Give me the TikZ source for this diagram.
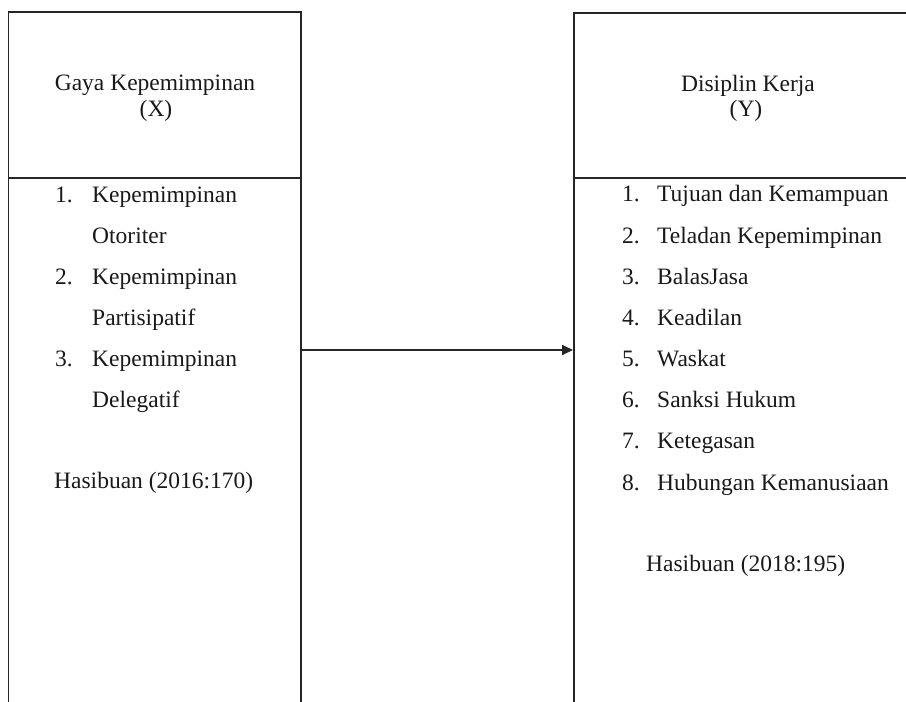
\documentclass[tikz,border=0pt]{standalone}
\usepackage{fontspec}
\setmainfont{Liberation Serif}
\usetikzlibrary{arrows.meta}
\begin{document}
\begin{tikzpicture}[x=1pt,y=-1pt,
  frame/.style={draw=black!85, line width=1.7pt, rectangle, inner sep=0pt, anchor=north west},
  txt/.style={inner sep=0pt, anchor=base west, font=\fontsize{23.5}{28}\selectfont, text=black!90},
  head/.style={inner sep=0pt, anchor=base, font=\fontsize{23.5}{28}\selectfont, text=black!90},
  rule/.style={draw=black!85, line width=1.7pt},
  link/.style={draw=black!85, line width=1.7pt, -{Triangle[length=11pt,width=10pt]}}]
\useasboundingbox (0,0) rectangle (906,702);
\clip (0,0) rectangle (906,702);
% boxes
\node[frame, minimum width=292.5pt, minimum height=720pt] (L) at (7.5,11) {};
\node[frame, minimum width=360pt, minimum height=720pt] (R) at (573,12) {};
% dividers
\coordinate (Ld) at (7.5,178);
\coordinate (Rd) at (573,178);
\draw[rule] (Ld) -- (Ld -| L.east);
\draw[rule] (Rd) -- (Rd -| R.east);
% headers
\node[head] (h1) at (155,90) {Gaya Kepemimpinan};
\node[head] (h1b) at (156,116) {(X)};
\node[head] (h2) at (748,91) {Disiplin Kerja};
\node[head] (h2b) at (746,116) {(Y)};
% left list
\node[txt] (ln1) at (55,202) {1.};
\node[txt] (lt1) at (92,202) {Kepemimpinan};
\node[txt] (lt1b) at (92,243) {Otoriter};
\node[txt] (ln2) at (55,284) {2.};
\node[txt] (lt2) at (92,284) {Kepemimpinan};
\node[txt] (lt2b) at (92,325) {Partisipatif};
\node[txt] (ln3) at (55,366) {3.};
\node[txt] (lt3) at (92,366) {Kepemimpinan};
\node[txt] (lt3b) at (92,407) {Delegatif};
\node[txt] (lsrc) at (54,488) {Hasibuan (2016:170)};
% right list
\node[txt] (rn1) at (622,201) {1.};
\node[txt] (rt1) at (657,201) {Tujuan dan Kemampuan};
\node[txt] (rn2) at (622,243) {2.};
\node[txt] (rt2) at (657,243) {Teladan Kepemimpinan};
\node[txt] (rn3) at (622,284) {3.};
\node[txt] (rt3) at (657,284) {BalasJasa};
\node[txt] (rn4) at (622,325) {4.};
\node[txt] (rt4) at (657,325) {Keadilan};
\node[txt] (rn5) at (622,366) {5.};
\node[txt] (rt5) at (657,366) {Waskat};
\node[txt] (rn6) at (622,407) {6.};
\node[txt] (rt6) at (657,407) {Sanksi Hukum};
\node[txt] (rn7) at (622,448) {7.};
\node[txt] (rt7) at (657,448) {Ketegasan};
\node[txt] (rn8) at (622,490) {8.};
\node[txt] (rt8) at (657,490) {Hubungan Kemanusiaan};
\node[txt] (rsrc) at (646,571) {Hasibuan (2018:195)};
% connector
\coordinate (ay) at (0,350);
\draw[link] (L.east |- ay) -- (R.west |- ay);
\end{tikzpicture}
\end{document}
